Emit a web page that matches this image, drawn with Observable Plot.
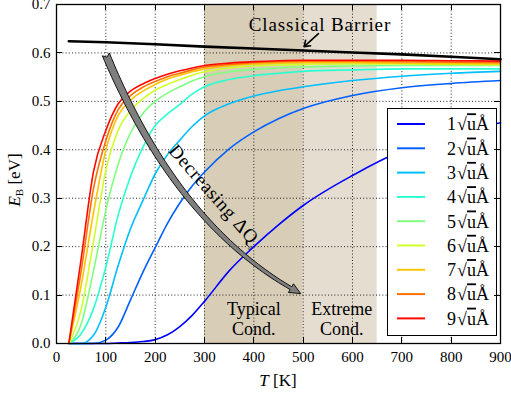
<!DOCTYPE html>
<html><head><meta charset="utf-8">
<script src="https://cdn.jsdelivr.net/npm/d3@7"></script>
<script src="https://cdn.jsdelivr.net/npm/@observablehq/plot@0.6"></script>
<style>body{margin:0;background:#fff}</style>
</head><body><div id="chart"></div>
<script>
// ---- data ----
const T = [25,50,75,100,125,150,175,200,225,250,275,300,350,400,450,500,600,700,800,900];
const E1 = [0,0,0,0,0.001,0.002,0.004,0.008,0.018,0.035,0.058,0.087,0.150,0.200,0.245,0.285,0.347,0.398,0.432,0.456];
const E2 = [0,0,0,0.007,0.034,0.090,0.147,0.198,0.248,0.290,0.325,0.354,0.402,0.437,0.464,0.485,0.512,0.528,0.537,0.543];
const E3 = [0,0,0.017,0.075,0.161,0.237,0.295,0.350,0.390,0.420,0.448,0.470,0.495,0.511,0.522,0.530,0.543,0.552,0.558,0.562];
const E4 = [0,0.020,0.072,0.158,0.265,0.345,0.405,0.450,0.474,0.494,0.515,0.530,0.545,0.553,0.558,0.562,0.565,0.567,0.567,0.567];
const E5 = [0,0.040,0.150,0.275,0.370,0.435,0.475,0.500,0.517,0.530,0.542,0.551,0.561,0.566,0.569,0.571,0.573,0.574,0.574,0.574];
const E6 = [0,0.070,0.210,0.357,0.440,0.481,0.505,0.523,0.535,0.545,0.554,0.561,0.569,0.573,0.575,0.576,0.577,0.577,0.576,0.575];
const E7 = [0,0.120,0.270,0.399,0.471,0.502,0.521,0.535,0.546,0.554,0.561,0.567,0.573,0.577,0.579,0.580,0.580,0.579,0.578,0.577];
const E8 = [0,0.150,0.320,0.419,0.483,0.512,0.529,0.541,0.551,0.558,0.565,0.571,0.576,0.580,0.582,0.583,0.583,0.582,0.581,0.580];
const E9 = [0,0.175,0.355,0.440,0.495,0.521,0.536,0.547,0.556,0.563,0.569,0.574,0.579,0.582,0.584,0.585,0.585,0.585,0.584,0.583];
const seriesE = [E1,E2,E3,E4,E5,E6,E7,E8,E9];
const seriesLabels = ["1","2","3","4","5","6","7","8","9"];
const seriesUnit = "uÅ";
const seriesColors = ["#0000ff","#0060ff","#00bfff","#2affd0","#80ff80","#d0ff2a","#ffc400","#ff7000","#ff0800"];

const barrierT = [25,100,200,300,400,500,600,700,800,900];
const barrierE = [0.624,0.622,0.618,0.613,0.609,0.605,0.601,0.597,0.592,0.587];

const regionStart = [300,500];
const regionEnd = [500,650];
const regionColor = ["#d8cdb7","#e5ddd0"];
const regionText = ["Typical\nCond.","Extreme\nCond."];
const regionTextT = [400,578];
const regionTextE = [0.052,0.052];

const xTicks = [0,100,200,300,400,500,600,700,800,900];
const yTicks = [0,0.1,0.2,0.3,0.4,0.5,0.6,0.7];
const xGrid = [100,200,300,400,500,600,700,800];
const yGrid = [0.1,0.2,0.3,0.4,0.5,0.6];

// annotation: classical barrier arrow (data units)
const barrierLabel = "Classical Barrier";
const barrierLabelT = 535, barrierLabelE = 0.658;
const barrierArrowT = [531,502], barrierArrowE = [0.640,0.613];
// annotation: curved "Decreasing ΔQ" arrow (quadratic bezier: tail, control, tip)
const decArrowT = [101,247,496];
const decArrowE = [0.596,0.238,0.102];
const decLabel = "Decreasing ΔQ";
const decLabelT = 323, decLabelE = 0.305, decLabelAngle = 48.7;

const FONT = "'Liberation Serif', 'DejaVu Serif', serif";

// ---- custom render marks ----
function inwardTicks(index, scales, values, dim) {
  const g = d3.create("svg:g").attr("stroke","black").attr("stroke-width",1);
  const L = dim.marginLeft, R = dim.width - dim.marginRight, Tp = dim.marginTop, B = dim.height - dim.marginBottom;
  for (const t of xTicks) {
    const px = Math.round(scales.x(t)) + 0.5;
    g.append("line").attr("x1",px).attr("x2",px).attr("y1",B).attr("y2",B-6);
    g.append("line").attr("x1",px).attr("x2",px).attr("y1",Tp).attr("y2",Tp+6);
  }
  for (const t of yTicks) {
    const py = Math.round(scales.y(t)) + 0.5;
    g.append("line").attr("x1",L).attr("x2",L+6).attr("y1",py).attr("y2",py);
    g.append("line").attr("x1",R).attr("x2",R-6).attr("y1",py).attr("y2",py);
  }
  return g.node();
}

function axisLabels(index, scales, values, dim) {
  const g = d3.create("svg:g").style("font-family",FONT).attr("fill","black");
  const cx = (dim.marginLeft + dim.width - dim.marginRight)/2;
  const tx = g.append("text").attr("x",cx).attr("y",386).attr("text-anchor","middle").attr("font-size",17);
  tx.append("tspan").attr("font-style","italic").text("T");
  tx.append("tspan").text(" [K]");
  const ty = g.append("text").attr("transform","translate(20,180) rotate(-90)").attr("text-anchor","middle").attr("font-size",17);
  ty.append("tspan").attr("font-style","italic").text("E");
  ty.append("tspan").attr("font-size",11).attr("dy",3).text("B");
  ty.append("tspan").attr("dy",-3).text(" [eV]");
  return g.node();
}

function curvedArrow(index, scales) {
  const P = decArrowT.map((t,i)=>[scales.x(t), scales.y(decArrowE[i])]);
  const pt = u => [0,1].map(k => (1-u)*(1-u)*P[0][k] + 2*u*(1-u)*P[1][k] + u*u*P[2][k]);
  const tan = u => { const v=[0,1].map(k => 2*(1-u)*(P[1][k]-P[0][k]) + 2*u*(P[2][k]-P[1][k])); const n=Math.hypot(v[0],v[1]); return [v[0]/n,v[1]/n]; };
  const N = 200; const samples = [];
  for (let i=0;i<=N;i++) samples.push(pt(i/N));
  let acc = 0, uH = 1;
  for (let i=N;i>0;i--) { acc += Math.hypot(samples[i][0]-samples[i-1][0], samples[i][1]-samples[i-1][1]); if (acc >= 11) { uH = (i-1)/N; break; } }
  const w0 = 3.8, w1 = 1.6, headHalf = 5;
  const left = [], right = [];
  const M = 60;
  for (let i=0;i<=M;i++) {
    const u = uH*i/M; const p = pt(u), t = tan(u); const n = [-t[1], t[0]];
    const w = w0 + (w1-w0)*(i/M);
    left.push([p[0]+n[0]*w, p[1]+n[1]*w]);
    right.push([p[0]-n[0]*w, p[1]-n[1]*w]);
  }
  const B = pt(uH), tB = tan(uH), nB = [-tB[1], tB[0]];
  const t0 = tan(0);
  const notch = [P[0][0] + t0[0]*3, P[0][1] + t0[1]*3];
  const poly = [notch, ...left, [B[0]+nB[0]*headHalf, B[1]+nB[1]*headHalf], P[2], [B[0]-nB[0]*headHalf, B[1]-nB[1]*headHalf], ...right.reverse()];
  const g = d3.create("svg:g");
  g.append("path").attr("d","M"+poly.map(p=>p[0].toFixed(2)+","+p[1].toFixed(2)).join("L")+"Z")
    .attr("fill","#7f7f7f").attr("stroke","black").attr("stroke-width",0.9).attr("stroke-linejoin","miter");
  return g.node();
}

function annoText(index, scales) {
  const g = d3.create("svg:g").style("font-family",FONT).attr("fill","black");
  const t = g.append("text")
    .attr("transform",`translate(${scales.x(decLabelT)},${scales.y(decLabelE)}) rotate(${decLabelAngle})`)
    .attr("text-anchor","middle").attr("dy","0.35em").attr("font-size",19).attr("letter-spacing",0.7);
  t.append("tspan").text(decLabel);
  t.append("tspan").attr("font-size",8).attr("dy",4).text("s");
  g.append("text").attr("x",scales.x(barrierLabelT)).attr("y",scales.y(barrierLabelE)).attr("dy","0.35em")
    .attr("font-size",19).attr("letter-spacing",0.9).text(barrierLabel);
  return g.node();
}

function legend(index, scales, values, dim) {
  const R = dim.width - dim.marginRight, B = dim.height - dim.marginBottom;
  const x0 = R - 113, x1 = R - 4, y0 = dim.marginTop + 104, y1 = B - 8;
  const g = d3.create("svg:g").style("font-family",FONT);
  g.append("rect").attr("x",x0+0.5).attr("y",y0+0.5).attr("width",x1-x0).attr("height",y1-y0)
    .attr("fill","white").attr("stroke","black").attr("stroke-width",1);
  seriesLabels.forEach((lab,i) => {
    const yy = y0 + 16 + i*24.3;
    g.append("line").attr("x1",x0+10).attr("x2",x0+38).attr("y1",yy).attr("y2",yy)
      .attr("stroke",seriesColors[i]).attr("stroke-width",2);
    const t = g.append("text").attr("x",R-11).attr("y",yy).attr("dy","0.35em")
      .attr("text-anchor","end").attr("font-size",18).attr("fill","black");
    t.append("tspan").text(lab);
    t.append("tspan").attr("dx",1).text("√");
    t.append("tspan").style("text-decoration","overline").text(seriesUnit[0]);
    t.append("tspan").text(seriesUnit.slice(1));
  });
  return g.node();
}

// ---- plot ----
const marks = [
  Plot.rect(regionStart, {x1: (d,i)=>regionStart[i], x2: (d,i)=>regionEnd[i], y1: 0, y2: 0.7, fill: (d,i)=>regionColor[i]}),
  Plot.gridX(xGrid, {stroke:"black", strokeOpacity:0.85, strokeDasharray:"1,2.2", strokeWidth:1}),
  Plot.gridY(yGrid, {stroke:"black", strokeOpacity:0.85, strokeDasharray:"1,2.2", strokeWidth:1}),
  Plot.axisX(xTicks, {tickSize:0, tickPadding:8, fontSize:15, fontFamily:FONT, label:null}),
  Plot.axisY(yTicks, {tickSize:0, tickPadding:6, fontSize:15, fontFamily:FONT, label:null, tickFormat: d3.format(".1f")}),
  ...seriesE.map((E,i) => Plot.line(T, {x: T, y: E, stroke: seriesColors[i], strokeWidth:1.6, curve:"monotone-x"})),
  Plot.line(barrierT, {x: barrierT, y: barrierE, stroke:"black", strokeWidth:2.6}),
  Plot.arrow([0], {x1: barrierArrowT[0], y1: barrierArrowE[0], x2: barrierArrowT[1], y2: barrierArrowE[1], stroke:"black", strokeWidth:1.6, headLength:9, headAngle:70}),
  Plot.text(regionText, {x: (d,i)=>regionTextT[i], y: (d,i)=>regionTextE[i], text: d=>d, fontSize:18, fontFamily:FONT, fill:"black", lineHeight:1.1}),
  curvedArrow,
  annoText,
  legend,
  Plot.frame({stroke:"black", strokeWidth:1.3}),
  inwardTicks,
  axisLabels
];

const chart = Plot.plot({
  width: 511, height: 396,
  marginLeft: 56, marginRight: 11, marginTop: 4, marginBottom: 53,
  x: {domain:[0,900]},
  y: {domain:[0,0.7]},
  style: {fontFamily: FONT, fontSize: "15px", background: "white", color: "black", overflow: "visible"},
  marks
});
document.getElementById("chart").appendChild(chart);
</script>
</body></html>
